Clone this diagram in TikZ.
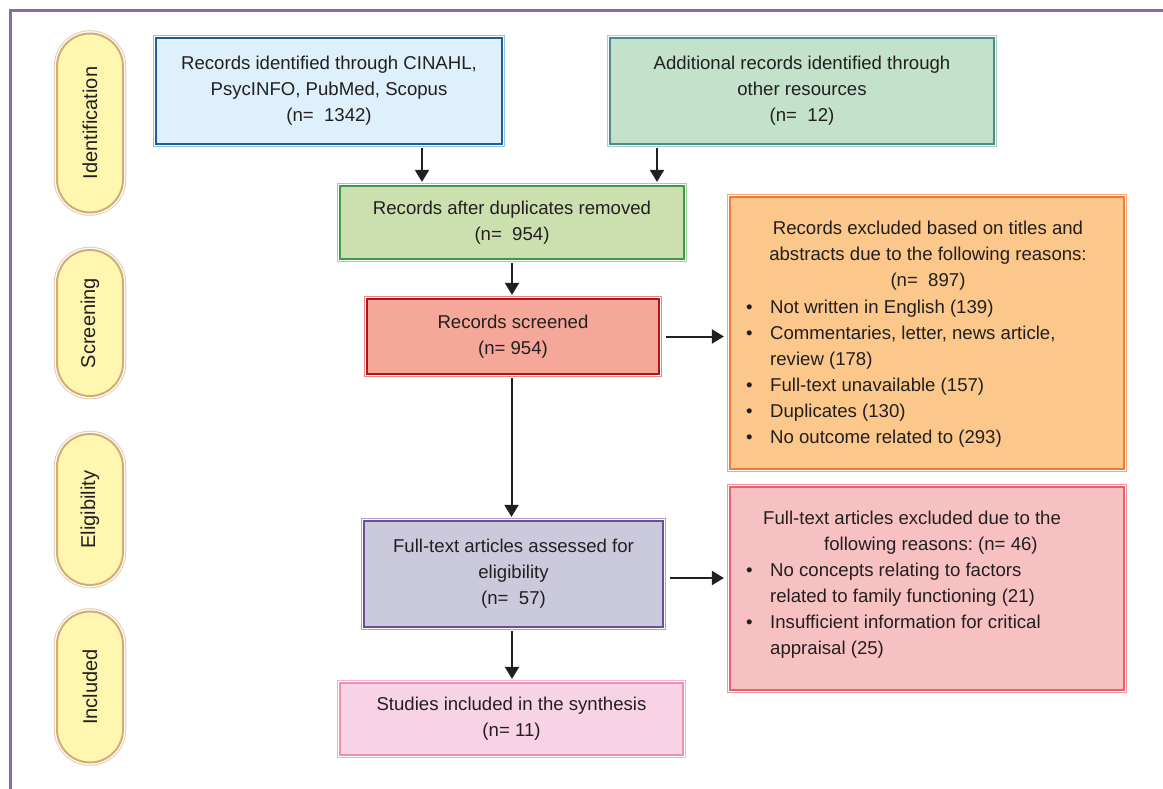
\documentclass[tikz,border=0pt]{standalone}
\usepackage{fontspec}
\setmainfont{Liberation Sans}
\usetikzlibrary{arrows.meta}

\definecolor{txt}{HTML}{231F20}
\definecolor{framec}{HTML}{8A68B4}
\definecolor{pillfill}{HTML}{FFF7B0}
\definecolor{pillrim}{HTML}{D2AC78}
\definecolor{dbasefill}{HTML}{DDF0FB}
\definecolor{dbaseline}{HTML}{1F5E95}
\definecolor{dbaserim}{HTML}{8FC3E0}
\definecolor{otherfill}{HTML}{C3E1CB}
\definecolor{otherline}{HTML}{4A8C8A}
\definecolor{otherrim}{HTML}{A9CFC9}
\definecolor{dedupfill}{HTML}{CCE0AF}
\definecolor{dedupline}{HTML}{3C9A48}
\definecolor{deduprim}{HTML}{9FD19F}
\definecolor{screenfill}{HTML}{F5A899}
\definecolor{screenline}{HTML}{B3141C}
\definecolor{screenrim}{HTML}{E08A8A}
\definecolor{exafill}{HTML}{FBC78A}
\definecolor{exaline}{HTML}{F07A3A}
\definecolor{exarim}{HTML}{F7A77A}
\definecolor{fullfill}{HTML}{CBCADC}
\definecolor{fullline}{HTML}{6E4C9C}
\definecolor{fullrim}{HTML}{B0A0CC}
\definecolor{exbfill}{HTML}{F8C1C1}
\definecolor{exbline}{HTML}{E8606E}
\definecolor{exbrim}{HTML}{F098A0}
\definecolor{inclfill}{HTML}{F8D3E5}
\definecolor{inclline}{HTML}{EF8FB5}
\definecolor{inclrim}{HTML}{F4B0CC}

\newcommand{\bitem}{\makebox[24pt][l]{\textbullet}}
\frenchspacing

\begin{document}
\begin{tikzpicture}[x=1pt, y=1pt,
  every node/.style={font=\fontsize{18.6}{26}\selectfont, text=txt},
  flow/.style n args={3}{draw=#1, fill=#2, line width=2.2pt,
    preaction={draw=#3, line width=6.5pt}, preaction={draw=white, line width=4.5pt},
    align=center, inner sep=0pt},
  stage/.style={draw=pillrim, fill=pillfill, line width=2pt,
    preaction={draw=pillrim!60, line width=6.5pt}, preaction={draw=white, line width=4.5pt},
    rounded corners=33pt, rotate=90, minimum height=66pt, inner sep=0pt,
    font=\fontsize{20}{24}\selectfont},
  arr/.style={-{Triangle[length=12pt,width=14pt]}, line width=2pt, draw=txt}]
\useasboundingbox (0,0) rectangle (1163,-789);

% frame
\draw[framec, line width=3pt] (1163,-11) -- (10,-11) -- (10,-789);

% stages
\node[stage, minimum width=179pt] (ident) at (90,-123) {Identification};
\node[stage, minimum width=146pt] (screen) at (90,-323) {Screening};
\node[stage, minimum width=151pt] (elig) at (90,-509.5) {Eligibility};
\node[stage, minimum width=151pt] (incl) at (90,-687) {Included};

% boxes
\node[flow={dbaseline}{dbasefill}{dbaserim}, minimum width=346pt, minimum height=106pt] (dbase) at (329,-91)
  {Records identified through CINAHL,\\PsycINFO, PubMed, Scopus\\(n=\ \ 1342)};
\node[flow={otherline}{otherfill}{otherrim}, minimum width=384pt, minimum height=106pt] (other) at (802,-91)
  {Additional records identified through\\other resources\\(n=\ \ 12)};
\node[flow={dedupline}{dedupfill}{deduprim}, minimum width=344pt, minimum height=73pt] (dedup) at (512,-222.5)
  {Records after duplicates removed\\(n=\ \ 954)};
\node[flow={screenline}{screenfill}{screenrim}, minimum width=292pt, minimum height=75pt] (screened) at (513,-336.5)
  {Records screened\\(n= 954)};
\node[flow={exaline}{exafill}{exarim}, minimum width=394pt, minimum height=272pt] (exclA) at (927,-333) {};
\node[flow={fullline}{fullfill}{fullrim}, minimum width=299pt, minimum height=106pt] (fulltext) at (513.5,-574)
  {Full-text articles assessed for\\eligibility\\(n=\ \ 57)};
\node[flow={exbline}{exbfill}{exbrim}, minimum width=394pt, minimum height=203pt] (exclB) at (927,-588.5) {};
\node[flow={inclline}{inclfill}{inclrim}, minimum width=343pt, minimum height=72pt] (included) at (511.5,-719)
  {Studies included in the synthesis\\(n= 11)};

% exclusion texts
\node[align=center, inner sep=0pt] (exAhead) at (928,-256)
  {Records excluded based on titles and\\abstracts due to the following reasons:\\(n=\ \ 897)};
\node[anchor=west, align=left, inner sep=0pt] (exAlist) at (746,-374)
  {\bitem Not written in English (139)\\
   \bitem Commentaries, letter, news article,\\
   \hspace*{24pt}review (178)\\
   \bitem Full-text unavailable (157)\\
   \bitem Duplicates (130)\\
   \bitem No outcome related to (293)};
\node[anchor=west, align=left, inner sep=0pt] (exBhead) at (763,-533)
  {Full-text articles excluded due to the\\\hspace*{61pt}following reasons: (n= 46)};
\node[anchor=west, align=left, inner sep=0pt] (exBlist) at (746,-611)
  {\bitem No concepts relating to factors\\
   \hspace*{24pt}related to family functioning (21)\\
   \bitem Insufficient information for critical\\
   \hspace*{24pt}appraisal (25)};

% arrows
\coordinate (d1) at ([xshift=93pt]dbase.south);
\coordinate (o1) at ([xshift=-145pt]other.south);
\draw[arr, shorten <=3pt, shorten >=3pt] (d1) -- (d1 |- dedup.north);
\draw[arr, shorten <=3pt, shorten >=3pt] (o1) -- (o1 |- dedup.north);
\draw[arr, shorten <=3pt, shorten >=3pt] (dedup.south) -- (dedup.south |- screened.north);
\draw[arr, shorten <=6pt, shorten >=5pt] (screened.east) -- (screened.east -| exclA.west);
\draw[arr, shorten <=3pt, shorten >=3pt] ([xshift=-1.5pt]screened.south) -- ([xshift=-1.5pt]screened.south |- fulltext.north);
\coordinate (f1) at ([yshift=-4pt]fulltext.east);
\draw[arr, shorten <=6pt, shorten >=5pt] (f1) -- (f1 -| exclB.west);
\draw[arr, shorten <=3pt, shorten >=3pt] ([xshift=-1.5pt]fulltext.south) -- ([xshift=-1.5pt]fulltext.south |- included.north);
\end{tikzpicture}
\end{document}
